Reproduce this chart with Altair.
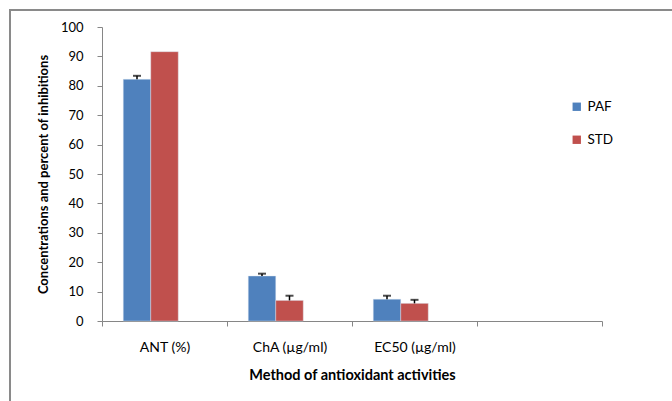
import altair as alt
import pandas as pd

categories = ["ANT (%)", "ChA (µg/ml)", "EC50 (µg/ml)"]
axis_slots = ["ANT (%)", "ChA (µg/ml)", "EC50 (µg/ml)", "blank"]
series = ["PAF", "STD"]
paf_values = [82.2, 15.3, 7.4]
std_values = [91.6, 7.0, 6.0]
paf_err_top = [83.4, 16.1, 8.6]
std_err_top = [91.6, 8.6, 7.2]
y_ticks = [0, 10, 20, 30, 40, 50, 60, 70, 80, 90, 100]

rows = []
for i, c in enumerate(categories):
    rows.append({"cat": c, "series": "PAF", "value": paf_values[i], "err": paf_err_top[i]})
    rows.append({"cat": c, "series": "STD", "value": std_values[i], "err": std_err_top[i]})
df = pd.DataFrame(rows)
df_err = df[df["err"] > df["value"]]

FONT = "Lato"

x_enc = alt.X(
    "cat:N",
    scale=alt.Scale(domain=axis_slots, paddingInner=0, paddingOuter=0),
    axis=alt.Axis(
        title="Method of antioxidant activities",
        labelAngle=0,
        labelExpr="datum.value == 'blank' ? '' : datum.value",
        tickBand="extent",
        tickSize=5,
        labelPadding=14,
        titlePadding=14,
        labelFontSize=14,
        titleFontSize=14.5,
    ),
)
xoff = alt.XOffset(
    "series:N",
    scale=alt.Scale(domain=["PAF", "STD", "hidden"], paddingInner=0, paddingOuter=0.773),
)
y_scale = alt.Scale(domain=[0, 100], nice=False, zero=True)
y_axis = alt.Axis(
    title="Concentrations and percent of inhibitions",
    values=[float(v) for v in y_ticks],
    tickCount=11,
    tickMinStep=10,
    tickSize=5,
    labelPadding=14,
    titlePadding=10,
    grid=False,
    labelOverlap=False,
    labelBound=False,
    labelFlush=False,
    labelFontSize=13,
    titleFontSize=13,
    format="d",
)

bars = alt.Chart(df).mark_bar(stroke="#dbe4f0", strokeWidth=0.6, strokeOpacity=0.7).encode(
    x=x_enc,
    xOffset=xoff,
    y=alt.Y("value:Q", scale=y_scale, axis=y_axis),
    color=alt.Color(
        "series:N",
        scale=alt.Scale(domain=series, range=["#4F81BD", "#C0504D"]),
        legend=alt.Legend(
            title=None,
            orient="none",
            legendX=468,
            legendY=73,
            symbolType="square",
            symbolSize=70,
            symbolStrokeWidth=0,
            labelFontSize=13.5,
            labelFont=FONT,
            labelColor="#000000",
            rowPadding=18,
            labelOffset=4,
        ),
    ),
)

err_line = alt.Chart(df_err).mark_rule(color="#000000", strokeWidth=1.5).encode(
    x=x_enc,
    xOffset=xoff,
    y=alt.Y("value:Q", scale=y_scale, axis=y_axis),
    y2="err:Q",
)
err_cap = alt.Chart(df_err).mark_tick(color="#000000", thickness=2, size=8, orient="horizontal").encode(
    x=x_enc,
    xOffset=xoff,
    y=alt.Y("err:Q", scale=y_scale, axis=y_axis),
)

border_data = alt.Data(values=[{"k": 1}])
border_top = alt.Chart(border_data).mark_rule(color="#8a8a8a", strokeWidth=2).encode(
    x=alt.value(-93), x2=alt.value(575), y=alt.value(-17)
)
border_left = alt.Chart(border_data).mark_rule(color="#8a8a8a", strokeWidth=2).encode(
    x=alt.value(-92), y=alt.value(-18), y2=alt.value(380)
)

chart = (
    alt.layer(bars, err_line, err_cap, border_top, border_left)
    .properties(
        width=500,
        height=294,
        autosize=alt.AutoSizeParams(type="none"),
        padding={"left": 102, "top": 27, "right": 70, "bottom": 80},
        background="#ffffff",
    )
    .configure_view(stroke=None)
    .configure_axis(
        domainColor="#868686",
        tickColor="#868686",
        labelColor="#000000",
        titleColor="#000000",
        labelFont=FONT,
        titleFont=FONT,
        titleFontWeight="bold",
    )
)

chart.save("out.html", embed_options={"renderer": "svg", "actions": False})
